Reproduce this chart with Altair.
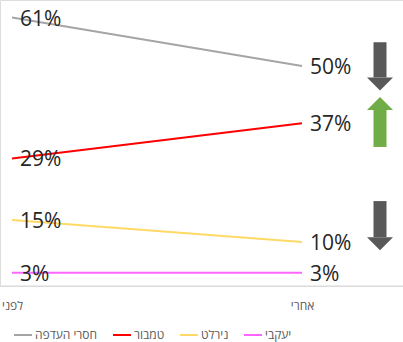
import altair as alt
import pandas as pd

# Brand preference before / after
periods = ["לפני", "אחרי"]
brands = ["חסרי העדפה", "טמבור", "נירלט", "יעקבי"]
before = [61, 29, 15, 3]
after = [50, 37, 10, 3]
colors = ["#A5A5A5", "#FF0000", "#FFD966", "#FF66FF"]

# Change arrows beside the "after" values (shaft end, head base, direction)
arrow_shaft_end = [55.4, 31.6, 19.3]
arrow_head_base = [47.4, 40.0, 11.1]
arrow_dir = ["down", "up", "down"]
arrow_colors = ["#595959", "#70AD47", "#595959"]

FONT = "Open Sans"
W, H = 403, 286
Y_MAX = 65

rows = []
for b, v0, v1 in zip(brands, before, after):
    rows.append({"brand": b, "period": periods[0], "value": v0, "label": f"{v0}%"})
    rows.append({"brand": b, "period": periods[1], "value": v1, "label": f"{v1}%"})
df = pd.DataFrame(rows)

arrows = pd.DataFrame({
    "shaft": arrow_shaft_end,
    "head": arrow_head_base,
    "dir": arrow_dir,
    "color": arrow_colors,
})

x_enc = alt.X(
    "period:N",
    sort=periods,
    scale=alt.Scale(type="point", range=[12, 302], padding=0),
    axis=alt.Axis(
        title=None, domain=False, ticks=False, grid=False, labelAngle=0,
        labelFont=FONT, labelFontSize=12, labelColor="#595959", labelPadding=14,
    ),
)
y_scale = alt.Scale(domain=[0, Y_MAX], nice=False, zero=True)
y_enc = alt.Y("value:Q", scale=y_scale, axis=None)

color_enc = alt.Color(
    "brand:N",
    sort=brands,
    scale=alt.Scale(domain=brands, range=colors),
    legend=alt.Legend(
        title=None, orient="none", direction="horizontal",
        legendX=13, legendY=325, symbolType="stroke", symbolStrokeWidth=2,
        symbolSize=324, labelFont=FONT, labelFontSize=12, labelColor="#595959",
        labelOffset=2, columnPadding=11, padding=0,
    ),
)

base = alt.Chart(df)

baseline = alt.Chart(pd.DataFrame({"v": [0]})).mark_rule(
    color="#D9D9D9", strokeWidth=1
).encode(y=alt.Y("v:Q", scale=y_scale, axis=None), x=alt.value(0), x2=alt.value(W))

lines = base.mark_line(strokeWidth=2).encode(x=x_enc, y=y_enc, color=color_enc)

labels = base.mark_text(
    align="left", baseline="middle", dx=8, dy=2, font=FONT, fontSize=21, color="#262626"
).encode(x=x_enc, y=y_enc, text="label:N")

shafts = alt.Chart(arrows).mark_rule(strokeWidth=13, strokeCap="butt").encode(
    x=alt.value(380),
    y=alt.Y("shaft:Q", scale=y_scale, axis=None),
    y2="head:Q",
    color=alt.Color("color:N", scale=None),
)

heads_down = alt.Chart(arrows).transform_filter(alt.datum.dir == "down").mark_point(
    shape="M-1,0L1,0L0,1Z", size=676, filled=True, opacity=1, strokeWidth=0
).encode(
    x=alt.value(380),
    y=alt.Y("head:Q", scale=y_scale, axis=None),
    color=alt.Color("color:N", scale=None),
)

heads_up = alt.Chart(arrows).transform_filter(alt.datum.dir == "up").mark_point(
    shape="M-1,0L1,0L0,-1Z", size=676, filled=True, opacity=1, strokeWidth=0
).encode(
    x=alt.value(380),
    y=alt.Y("head:Q", scale=y_scale, axis=None),
    color=alt.Color("color:N", scale=None),
)

chart = (
    alt.layer(baseline, lines, labels, shafts, heads_down, heads_up)
    .properties(
        width=W, height=H,
        autosize=alt.AutoSizeParams(type="none"),
        padding={"left": 0, "top": 0, "right": 0, "bottom": 56},
    )
    .configure_view(stroke=None)
    .configure(background="white")
)

chart.save("out.html", embed_options={"renderer": "svg", "actions": False})
